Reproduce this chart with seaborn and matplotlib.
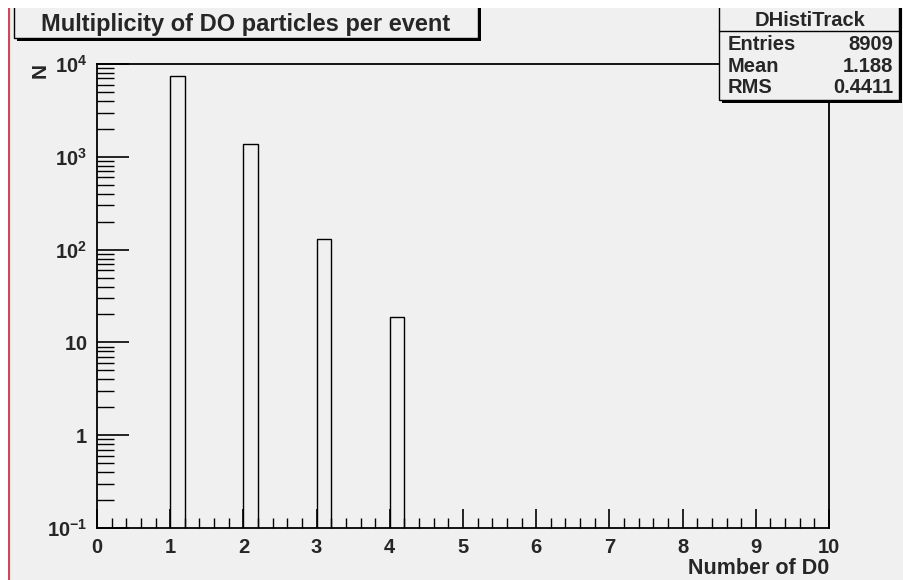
import numpy as np
import pandas as pd
import matplotlib
matplotlib.use("Agg")
import matplotlib.pyplot as plt
import seaborn as sns
from matplotlib.patches import Rectangle
from matplotlib.lines import Line2D
from matplotlib.ticker import LogLocator, FixedLocator, MultipleLocator, FuncFormatter

# ---- data ----
n_d0 = [1, 2, 3, 4]
counts = [7400, 1360, 130, 19]
title_text = "Multiplicity of DO particles per event"
stats_name = "DHistiTrack"
stats_labels = ["Entries", "Mean", "RMS"]
stats_values = ["8909", "1.188", "0.4411"]
x_label = "Number of D0"
y_label = "N"

sns.set_theme(style="white")
plt.rcParams['font.family'] = ['Liberation Sans', 'DejaVu Sans']
plt.rcParams['mathtext.fontset'] = 'custom'
plt.rcParams['mathtext.rm'] = 'Liberation Sans'
plt.rcParams['mathtext.bf'] = 'Liberation Sans:bold'
plt.rcParams['axes.unicode_minus'] = False

W, H = 904, 580
BG = '#f0f0f0'
fig = plt.figure(figsize=(W / 100, H / 100), dpi=100)
fig.patch.set_facecolor('white')

def fx(x):
    return x / W

def fy(y):
    return 1 - y / H

# gray canvas + red left line
fig.add_artist(Rectangle((fx(10), 0), 1 - fx(10), fy(8), transform=fig.transFigure,
                         facecolor=BG, edgecolor='none', zorder=0))
fig.add_artist(Line2D([fx(9), fx(9)], [0, fy(8)], transform=fig.transFigure,
                      color='#d04858', lw=1.6, zorder=1))

ax_l, ax_r, ax_t, ax_b = 97, 829, 64, 528
ax = fig.add_axes([fx(ax_l), fy(ax_b), fx(ax_r) - fx(ax_l), fy(ax_t) - fy(ax_b)])
ax.set_facecolor(BG)

df = pd.DataFrame({"n": n_d0, "w": counts})
sns.histplot(data=df, x="n", weights="w", binwidth=0.2, binrange=(-0.001, 9.999),
             ax=ax, stat="count", element="bars", fill=False, color='black',
             linewidth=1.0)
ax.set_yscale('log')
ax.set_xlim(0, 10)
ax.set_ylim(0.1, 1e4)

for s in ax.spines.values():
    s.set_color('black')
    s.set_linewidth(1.3)

def yfmt(v, pos):
    e = int(round(np.log10(v)))
    if e == 0:
        return r'$\mathbf{1}$'
    if e == 1:
        return r'$\mathbf{10}$'
    return r'$\mathbf{10^{%d}}$' % e

ax.yaxis.set_major_locator(FixedLocator([0.1, 1, 10, 100, 1000, 10000]))
ax.yaxis.set_major_formatter(FuncFormatter(yfmt))
ax.yaxis.set_minor_locator(LogLocator(base=10, subs=np.arange(2, 10), numticks=20))
ax.yaxis.set_minor_formatter(FuncFormatter(lambda v, p: ''))
ax.xaxis.set_major_locator(MultipleLocator(1))
ax.xaxis.set_minor_locator(MultipleLocator(0.2))
ax.xaxis.set_major_formatter(FuncFormatter(lambda v, p: '%d' % round(v)))

ax.tick_params(axis='y', which='major', direction='in', length=23, width=1.2,
               left=True, right=False, labelsize=14.5, pad=7, color='black')
ax.tick_params(axis='y', which='minor', direction='in', length=12, width=1.0,
               left=True, right=False, color='black')
ax.tick_params(axis='x', which='major', direction='in', length=14, width=1.2,
               bottom=True, top=False, labelsize=14.5, pad=7, color='black')
ax.tick_params(axis='x', which='minor', direction='in', length=7, width=1.0,
               bottom=True, top=False, color='black')
for lab in ax.get_xticklabels():
    lab.set_fontweight('bold')

ax.set_xlabel('')
ax.set_ylabel('')
fig.text(fx(829), fy(568), x_label, ha='right', va='center',
         fontsize=15.5, fontweight='bold')
fig.text(fx(40), fy(70), y_label, ha='center', va='center', rotation=90,
         fontsize=15, fontweight='bold')

# title box
tb_l, tb_r, tb_t, tb_b = 14, 478, -5, 38
fig.add_artist(Rectangle((fx(tb_l + 3), fy(tb_b + 3)), fx(tb_r - tb_l), fy(tb_t) - fy(tb_b),
                         transform=fig.transFigure, facecolor='black', edgecolor='none', zorder=5))
fig.add_artist(Rectangle((fx(tb_l), fy(tb_b)), fx(tb_r - tb_l), fy(tb_t) - fy(tb_b),
                         transform=fig.transFigure, facecolor=BG, edgecolor='black', lw=1.0, zorder=6))
fig.text(fx(246), fy(24), title_text, ha='center', va='center', fontsize=17,
         fontweight='bold', zorder=7)

# stats box
sb_l, sb_r, sb_t, sb_b = 719, 899, -5, 100
fig.add_artist(Rectangle((fx(sb_l + 3), fy(sb_b + 3)), fx(sb_r - sb_l), fy(sb_t) - fy(sb_b),
                         transform=fig.transFigure, facecolor='black', edgecolor='none', zorder=5))
fig.add_artist(Rectangle((fx(sb_l), fy(sb_b)), fx(sb_r - sb_l), fy(sb_t) - fy(sb_b),
                         transform=fig.transFigure, facecolor=BG, edgecolor='black', lw=1.0, zorder=6))
fig.add_artist(Line2D([fx(sb_l), fx(sb_r)], [fy(31), fy(31)], transform=fig.transFigure,
                      color='black', lw=1.0, zorder=7))
fig.text(fx(810), fy(20), stats_name, ha='center', va='center', fontsize=14.5,
         fontweight='bold', zorder=7)
for i, (lab, val) in enumerate(zip(stats_labels, stats_values)):
    yy = 44.5 + i * 21.5
    fig.text(fx(728), fy(yy), lab, ha='left', va='center', fontsize=14.5,
             fontweight='bold', zorder=7)
    fig.text(fx(893), fy(yy), val, ha='right', va='center', fontsize=14.5,
             fontweight='bold', zorder=7)

# white margins on top and left
fig.add_artist(Rectangle((0, fy(8)), 1, 1 - fy(8), transform=fig.transFigure,
                         facecolor='white', edgecolor='none', zorder=20))
fig.add_artist(Rectangle((0, 0), fx(8), 1, transform=fig.transFigure,
                         facecolor='white', edgecolor='none', zorder=20))

fig.savefig('out.png', dpi=100, facecolor=fig.get_facecolor())
